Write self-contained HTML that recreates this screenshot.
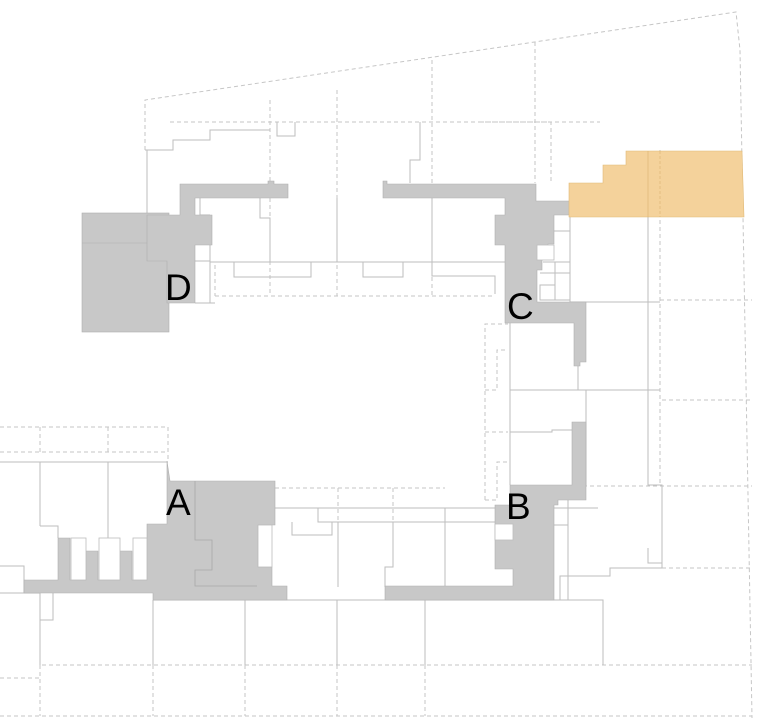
<!DOCTYPE html>
<html><head><meta charset="utf-8"><style>
html,body{margin:0;padding:0;background:#fff;}
svg{display:block;}
text{font-family:"Liberation Sans",sans-serif;font-size:37px;fill:#000;}
</style></head><body>
<svg width="759" height="723" viewBox="0 0 759 723" xmlns="http://www.w3.org/2000/svg">
<g fill="none" stroke="#c6c6c6" stroke-width="1" stroke-dasharray="4,3">
<polyline points="145,150 145,100 736,12 740,50 752,718"/>
<line x1="0" y1="716" x2="752" y2="716"/>
<line x1="42" y1="665" x2="752" y2="665"/>
<line x1="0" y1="678" x2="40" y2="678"/>
<line x1="40" y1="665" x2="40" y2="716"/>
<line x1="153" y1="665" x2="153" y2="716"/>
<line x1="245" y1="665" x2="245" y2="716"/>
<line x1="337" y1="665" x2="337" y2="716"/>
<line x1="425" y1="665" x2="425" y2="716"/>
<line x1="0" y1="427" x2="168" y2="427"/>
<line x1="0" y1="452" x2="168" y2="452"/>
<line x1="40" y1="427" x2="40" y2="452"/>
<line x1="108" y1="427" x2="108" y2="452"/>
<line x1="168" y1="427" x2="168" y2="460"/>
<line x1="275" y1="488" x2="445" y2="488"/>
<line x1="338" y1="488" x2="338" y2="522"/>
<line x1="393" y1="488" x2="393" y2="522"/>
<line x1="555" y1="486" x2="752" y2="486"/>
<line x1="662" y1="568" x2="752" y2="568"/>
<line x1="662" y1="400" x2="752" y2="400"/>
<line x1="660" y1="300" x2="752" y2="300"/>
<line x1="660" y1="150" x2="660" y2="486"/>
<line x1="215" y1="296" x2="495" y2="296"/>
<line x1="270" y1="100" x2="270" y2="296"/>
<line x1="337" y1="90" x2="337" y2="296"/>
<line x1="432" y1="60" x2="432" y2="296"/>
<line x1="535" y1="42" x2="535" y2="183"/>
<line x1="215" y1="265" x2="215" y2="296"/>
<polyline points="485,500 485,324 508,324"/>
<polyline points="485,390 497,390 497,350 508,350"/>
<polyline points="485,432 508,432"/>
<polyline points="485,500 497,500 497,462 508,462"/>
<line x1="170" y1="122" x2="600" y2="122"/>
<polyline points="480,122 551,122 551,183"/>
</g>
<g fill="none" stroke="#bdbdbd" stroke-width="1">
<line x1="0" y1="462" x2="168" y2="462"/>
<line x1="40" y1="462" x2="40" y2="526"/>
<line x1="108" y1="462" x2="108" y2="538"/>
<polyline points="0,566 24,566 24,593"/>
<polyline points="0,593 40,593 40,620 53,620 53,593"/>
<polyline points="40,620 40,665"/>
<polyline points="40,526 58,526 58,538"/>
<line x1="153" y1="600" x2="600" y2="600"/>
<line x1="153" y1="600" x2="153" y2="665"/>
<line x1="245" y1="600" x2="245" y2="665"/>
<line x1="337" y1="600" x2="337" y2="665"/>
<line x1="425" y1="600" x2="425" y2="665"/>
<polyline points="513,600 603,600 603,665"/>
<line x1="275" y1="508" x2="598" y2="508"/>
<polyline points="275,508 318,508 318,522 540,522"/>
<polyline points="292,522 292,535 332,535 332,522"/>
<line x1="338" y1="522" x2="338" y2="587"/>
<polyline points="393,522 393,567 385,567 385,587"/>
<line x1="445" y1="508" x2="445" y2="587"/>
<line x1="510" y1="323" x2="510" y2="485"/>
<line x1="510" y1="390" x2="586" y2="390"/>
<line x1="578" y1="323" x2="578" y2="390"/>
<line x1="586" y1="390" x2="586" y2="486"/>
<polyline points="510,432 552,432 552,430 572,430"/>
<line x1="570" y1="217" x2="570" y2="302"/>
<line x1="570" y1="302" x2="660" y2="302"/>
<line x1="568" y1="390" x2="660" y2="390"/>
<polyline points="648,183 648,485 662,485 662,568 610,568 610,576 560,576 560,600"/>
<line x1="568" y1="500" x2="568" y2="600"/>
<polyline points="648,548 648,563 662,563"/>
<polyline points="540,231 570,231"/>
<polyline points="543,262 570,262 570,300 540,300 540,285 555,285"/>
<line x1="555" y1="262" x2="555" y2="300"/>
<line x1="540" y1="273" x2="570" y2="273"/>
<polyline points="534,500 534,525 568,525"/>
<polyline points="200,197 200,215 210,215"/>
<line x1="195" y1="261" x2="210" y2="261"/>
<line x1="210" y1="215" x2="210" y2="303"/>
<line x1="195" y1="303" x2="215" y2="303"/>
<line x1="210" y1="262" x2="505" y2="262"/>
<polyline points="260,198 260,218 270,218 270,262"/>
<polyline points="234,262 234,277 311,277 311,262"/>
<polyline points="363,262 363,277 403,277 403,262"/>
<polyline points="432,262 432,276 495,276 495,294"/>
<line x1="337" y1="198" x2="337" y2="262"/>
<line x1="432" y1="198" x2="432" y2="262"/>
<polyline points="145,150 173,150 173,140 210,140 210,130 270,130"/>
<polyline points="147,150 147,213"/>
<polyline points="277,122 277,136 295,136 295,122"/>
<polyline points="410,183 410,160 420,160 420,122"/>
</g>
<g fill="#c8c8c8" stroke="#b0b0b0" stroke-width="0.6">
<rect x="82" y="213" width="87" height="119"/>
<line x1="82" y1="243" x2="147" y2="243"/>
<polygon points="147,215 180,215 180,184 268,184 268,181 274,181 274,184 288,184 288,198 195,198 195,215 212,215 212,245 195,245 195,303 167,303 167,261 147,261"/>
<polygon points="383,184 383,181 387,181 387,184 536,184 536,201 570,201 570,215 554,215 554,244 548,244 548,258 542,258 542,270 537,270 537,302 586,302 586,362 580,362 580,366 574,366 574,323 505,323 505,245 495,245 495,215 505,215 505,198 383,198"/>
<polygon points="572,422 586,422 586,500 558,500 558,505 554,505 554,600 385,600 385,586 513,586 513,569 495,569 495,505 510,505 510,485 572,485"/>
<polygon points="167,461 170,481 275,481 275,525 258,525 258,567 272,567 272,586 287,586 287,600 153,600 153,593 24,593 24,580 58,580 58,538 70,538 70,580 86,580 86,551 98,551 98,580 120,580 120,551 132,551 132,580 147,580 147,524 167,524"/>
</g>
<polyline points="195,481 195,540 212,540 212,570 195,570 195,586 257,586" fill="none" stroke="#a8a8a8" stroke-width="0.8"/>
<g fill="#fff" stroke="#bdbdbd" stroke-width="0.8">
<rect x="258" y="525" width="14" height="42"/>
<rect x="71" y="538" width="15" height="42"/>
<rect x="99" y="538" width="21" height="42"/>
<rect x="133" y="538" width="14" height="42"/>
<rect x="495" y="524" width="18" height="16"/>
<rect x="537" y="245" width="17" height="15"/>
</g>
<polygon points="569,217 569,183 603,183 603,165 626,165 626,151 742,151 744,217" fill="#f4d29b" stroke="#e0b976" stroke-width="0.6"/>
<line x1="648" y1="151" x2="648" y2="217" stroke="#d9b26f" stroke-width="0.6"/>
<line x1="660" y1="151" x2="660" y2="217" stroke="#d9b26f" stroke-width="0.6" stroke-dasharray="3,2"/>
<text x="165" y="300">D</text>
<text x="507" y="319">C</text>
<text x="166" y="515">A</text>
<text x="506" y="519">B</text>
</svg>
</body></html>
